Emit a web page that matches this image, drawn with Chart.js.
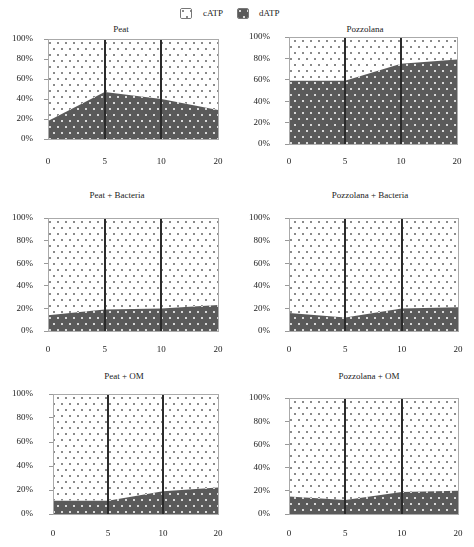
<!DOCTYPE html>
<html>
<head>
<meta charset="utf-8">
<script src="https://cdn.jsdelivr.net/npm/chart.js@4.4.1/dist/chart.umd.min.js"></script>
<style>
  body { margin: 0; background: #fff; }
  #wrap { position: relative; width: 474px; height: 547px; font-family: "Liberation Serif", serif; color: #222; }
  #wrap canvas.panel { position: absolute; }
  .ttl { position: absolute; font-size: 9px; white-space: nowrap; transform: translate(-50%, -50%); }
  .lg { position: absolute; font-size: 9px; top: 8px; }
  .sw { position: absolute; top: 8px; border: 1px solid #777; border-radius: 2px; }
</style>
</head>
<body>
<div id="wrap">
  <canvas class="sw" id="swC" width="10" height="9" style="left:180px"></canvas>
  <span class="lg" style="left:203px">cATP</span>
  <canvas class="sw" id="swD" width="10" height="9" style="left:237px"></canvas>
  <span class="lg" style="left:259px">dATP</span>
</div>
<script>
// sampling times (equally spaced categories)
const times = ["0", "5", "10", "20"];
const yTicks = [0, 20, 40, 60, 80, 100];

// dATP / cATP share (%) per treatment
const peatD = [18, 47, 40, 29];
const peatC = [82, 53, 60, 71];
const pozzD = [59, 59, 75, 79];
const pozzC = [41, 41, 25, 21];
const peatBacD = [14, 19, 20, 23];
const peatBacC = [86, 81, 80, 77];
const pozzBacD = [16, 12, 20, 21];
const pozzBacC = [84, 88, 80, 79];
const peatOmD = [11, 11, 19, 22];
const peatOmC = [89, 89, 81, 78];
const pozzOmD = [15, 12, 19, 20];
const pozzOmC = [85, 88, 81, 80];

const panels = [
  { title: "Peat", d: peatD, c: peatC, cx: 0, left: 48, right: 218, top: 39, bottom: 139, gap: 15, xPad: 17, tx: 121, ty: 29 },
  { title: "Pozzolana", d: pozzD, c: pozzC, cx: 237, left: 289, right: 457, top: 37, bottom: 144, gap: 19, xPad: 12, tx: 365, ty: 29 },
  { title: "Peat + Bacteria", d: peatBacD, c: peatBacC, cx: 0, left: 48, right: 218, top: 218, bottom: 331, gap: 15, xPad: 13, tx: 117, ty: 195 },
  { title: "Pozzolana + Bacteria", d: pozzBacD, c: pozzBacC, cx: 237, left: 289, right: 458, top: 218, bottom: 331, gap: 19, xPad: 13, tx: 370, ty: 195 },
  { title: "Peat + OM", d: peatOmD, c: peatOmC, cx: 0, left: 53, right: 218, top: 394, bottom: 514, gap: 20, xPad: 14, tx: 124, ty: 376 },
  { title: "Pozzolana + OM", d: pozzOmD, c: pozzOmC, cx: 237, left: 289, right: 458, top: 398, bottom: 514, gap: 19, xPad: 14, tx: 369, ty: 376 },
];

Chart.defaults.font.family = "'Liberation Serif', serif";
Chart.defaults.font.size = 9;
Chart.defaults.color = "#222";

// staggered dot pattern, like the print fill of the original
function makePattern(bg, dot) {
  const t = document.createElement("canvas");
  t.width = 8;
  t.height = 12;
  const g = t.getContext("2d");
  g.fillStyle = bg;
  g.fillRect(0, 0, 8, 12);
  g.fillStyle = dot;
  g.fillRect(1, 1, 2, 2);
  g.fillRect(5, 7, 2, 2);
  return g.createPattern(t, "repeat");
}
const darkFill = makePattern("#5a5a5a", "#d8d8d8");
const lightFill = makePattern("#ffffff", "#8a8a8a");

function paintSwatch(id, fill) {
  const el = document.getElementById(id);
  const g = el.getContext("2d");
  g.fillStyle = fill;
  g.fillRect(0, 0, el.width, el.height);
}
paintSwatch("swC", lightFill);
paintSwatch("swD", darkFill);

// top frame line of each plot
const framePlugin = {
  id: "frame",
  afterDraw(chart) {
    const { ctx, chartArea } = chart;
    ctx.save();
    ctx.strokeStyle = "#aaa";
    ctx.lineWidth = 1;
    ctx.beginPath();
    ctx.moveTo(chartArea.left, chartArea.top + 0.5);
    ctx.lineTo(chartArea.right, chartArea.top + 0.5);
    ctx.stroke();
    ctx.restore();
  },
};

const wrap = document.getElementById("wrap");
const X_H = 25;
// must exceed half a label height + y tick padding, or chart.js pushes the plot down
const TOP_PAD = 22;

panels.forEach((p) => {
  const cw = 237;
  const cy = p.top - TOP_PAD;
  const ch = p.bottom - p.top + TOP_PAD + X_H;

  const title = document.createElement("div");
  title.className = "ttl";
  title.style.left = p.tx + "px";
  title.style.top = p.ty + "px";
  title.textContent = p.title;
  wrap.appendChild(title);

  const canvas = document.createElement("canvas");
  canvas.className = "panel";
  canvas.width = cw;
  canvas.height = ch;
  canvas.style.left = p.cx + "px";
  canvas.style.top = cy + "px";
  wrap.appendChild(canvas);

  new Chart(canvas, {
    type: "line",
    data: {
      labels: times,
      datasets: [
        {
          label: "dATP",
          data: p.d,
          fill: "origin",
          backgroundColor: darkFill,
          borderWidth: 0,
          pointRadius: 0,
          tension: 0,
        },
        {
          label: "cATP",
          data: p.c,
          fill: "-1",
          backgroundColor: lightFill,
          borderWidth: 0,
          pointRadius: 0,
          tension: 0,
        },
      ],
    },
    options: {
      responsive: false,
      animation: false,
      layout: {
        padding: { top: TOP_PAD, right: p.cx + cw - p.right, bottom: 0, left: 0 },
      },
      plugins: {
        legend: { display: false },
        tooltip: { enabled: false },
      },
      scales: {
        x: {
          afterFit: (scale) => {
            scale.height = X_H;
          },
          grid: {
            z: 1,
            drawTicks: true,
            tickLength: p.xPad,
            tickColor: "rgba(0,0,0,0)",
            color: (c) => (c.index === 1 || c.index === 2 ? "#2a2a2a" : "#aaa"),
            lineWidth: (c) => (c.index === 1 || c.index === 2 ? 2 : 1),
          },
          border: { color: "#aaa", z: 1 },
          ticks: { padding: 0, maxRotation: 0 },
        },
        y: {
          stacked: true,
          min: 0,
          max: 100,
          afterFit: (scale) => {
            scale.width = p.left - p.cx;
          },
          afterBuildTicks: (scale) => {
            scale.ticks = yTicks.map((v) => ({ value: v }));
          },
          grid: {
            drawOnChartArea: false,
            drawTicks: true,
            tickLength: 4,
            color: "#999",
          },
          border: { color: "#999" },
          ticks: {
            padding: p.gap - 4,
            callback: (v) => v + "%",
          },
        },
      },
    },
    plugins: [framePlugin],
  });
});
</script>
</body>
</html>
